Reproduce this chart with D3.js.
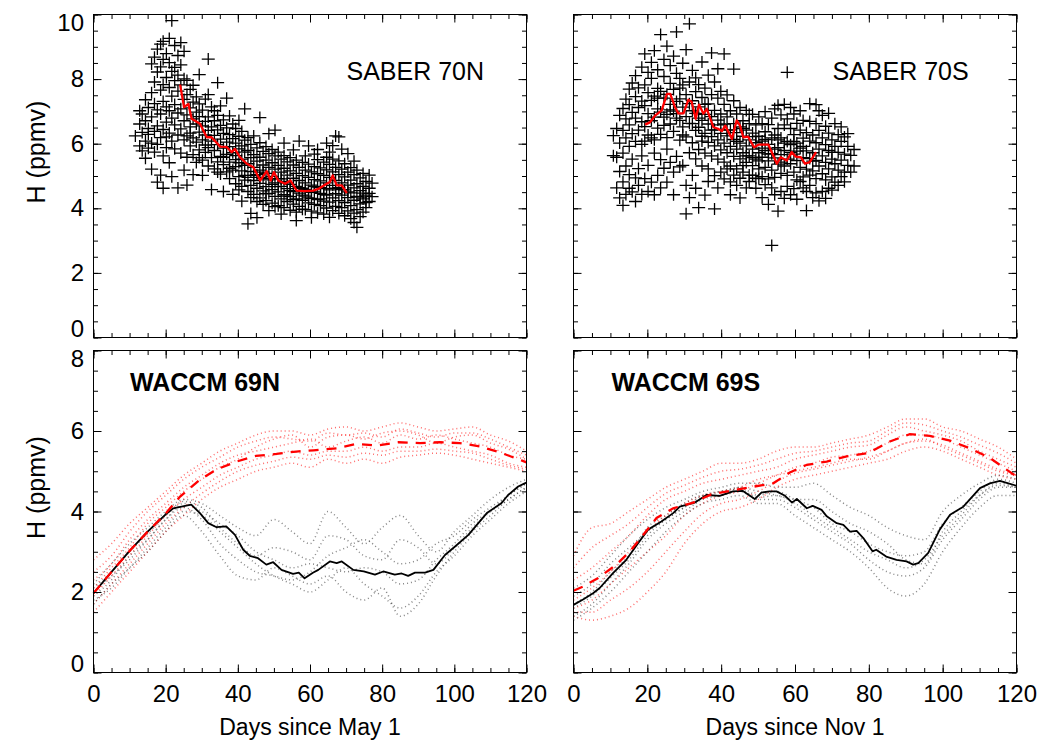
<!DOCTYPE html>
<html><head><meta charset="utf-8">
<script src="https://cdn.jsdelivr.net/npm/d3@7"></script>
<style>body{margin:0;background:#fff}svg{display:block}</style>
</head><body><svg id="c" width="1049" height="740"></svg>
<script>
// ---------------- DATA ----------------
const xTicks = [0, 20, 40, 60, 80, 100, 120];
const yTicksTop = [0, 2, 4, 6, 8, 10];
const yTicksBottom = [0, 2, 4, 6, 8];
const xTitles = ["Days since May 1", "Days since Nov 1"];
const panelLabels = ["SABER 70N", "SABER 70S", "WACCM 69N", "WACCM 69S"];

// SABER 70N scatter: [day, [values...]]
const saberN = [
[11.6,[6.24]],[12.8,[5.93,6.61,7.02]],[13.5,[6.35,5.78,6.92]],[14.4,[6.08,6.71,7.36,5.55]],
[15.2,[6.47,5.86,7.12,6.29]],[16.1,[6.02,6.83,7.58,8.47,5.21]],[16.9,[5.74,6.38,7.24,7.91,8.68]],
[17.7,[6.55,7.05,8.22,8.93,4.81,5.98]],[18.6,[6.19,6.92,7.66,8.38,9.08,5.03]],
[19.3,[5.62,6.44,7.31,7.83,8.61,9.17,4.62]],[20.2,[5.88,6.67,7.14,8.05,8.79,6.21]],
[21.0,[6.33,7.02,7.74,8.51,9.26,5.41]],[21.7,[6.08,6.79,7.47,8.24,9.81,4.98]],
[22.5,[5.84,6.58,7.21,7.95,8.36,9.04]],[23.4,[6.27,6.95,7.63,8.12,8.73,4.63]],
[24.2,[5.71,6.46,7.08,7.82,8.44,9.13]],[25.1,[6.12,6.71,7.37,8.01,8.86,5.18]],
[25.9,[5.58,6.24,6.89,7.52,7.96,4.72]],[26.8,[5.93,6.52,7.11,7.68,6.33]],
[27.6,[5.66,6.18,6.77,7.29,7.81,5.04]],[28.5,[5.42,6.05,6.61,6.98,7.45]],
[29.3,[5.81,6.36,6.84,7.23,8.14,5.57]],[30.2,[5.49,6.12,6.55,7.04,5.02]],
[31.0,[5.73,6.27,6.69,7.38,5.96]],[31.8,[5.31,5.88,6.41,6.83,7.52,8.62]],
[32.7,[5.57,6.08,6.52,7.14,4.58]],[33.5,[5.22,5.79,6.26,6.71,7.02]],
[34.4,[5.44,5.97,6.43,6.88,7.89,5.12]],[35.2,[5.06,5.61,6.14,6.57,7.17]],
[36.0,[5.35,5.86,6.32,6.74,4.52,5.58]],[36.9,[5.13,5.67,6.05,6.49,7.41]],
[37.7,[4.92,5.43,5.91,6.28,6.86,5.24]],[38.6,[5.18,5.72,6.16,6.61,4.43]],
[39.4,[4.76,5.29,5.63,6.02,6.47,5.51]],[40.3,[4.98,5.41,5.84,6.23,6.72,4.57]],
[41.1,[4.68,5.16,5.52,5.93,6.38,4.22]],[41.9,[4.87,5.33,5.74,6.11,7.08,5.02]],
[42.8,[4.52,4.96,5.38,5.79,6.19,3.52]],[43.6,[4.71,5.14,5.57,5.98,3.84,4.33]],
[44.4,[4.43,4.86,5.27,5.66,6.24,5.02]],[45.3,[4.62,5.04,5.46,5.87,3.71,4.21]],
[46.1,[4.32,4.77,5.18,5.58,6.03,6.81,4.96]],[47.0,[4.54,4.93,5.34,5.76,4.12,5.12]],
[47.8,[4.24,4.67,5.08,5.49,5.91,4.45]],[48.6,[4.46,4.88,5.27,5.69,6.31,3.93]],
[49.5,[4.16,4.58,4.99,5.41,5.82,4.74]],[50.3,[4.37,4.79,5.21,5.62,6.42,4.05]],
[51.2,[4.08,4.51,4.92,5.33,5.74,4.67]],[52.0,[4.29,4.68,5.12,5.52,3.82,4.91]],
[52.8,[4.02,4.42,4.83,5.24,5.63,6.02]],[53.7,[4.21,4.61,5.03,5.44,4.38,4.79]],
[54.5,[3.94,4.36,4.74,5.16,5.57,4.55]],[55.4,[4.13,4.52,4.93,5.34,5.81,4.27]],
[56.2,[3.88,4.29,4.68,5.08,5.49,3.62]],[57.0,[4.06,4.47,4.86,5.27,6.08,4.64]],
[57.9,[4.25,4.62,5.01,5.42,3.97,4.41]],[58.7,[3.96,4.38,4.79,5.18,5.62,4.58]],
[59.6,[4.17,4.55,4.96,5.37,5.93,4.32]],[60.4,[3.91,4.31,4.72,5.13,3.71,4.49]],
[61.2,[4.12,4.51,4.89,5.29,5.68,4.68]],[62.1,[3.86,4.27,4.66,5.07,5.51,5.82]],
[62.9,[4.08,4.46,4.85,5.25,4.29,4.64]],[63.8,[3.82,4.22,4.61,5.02,5.43,4.43]],
[64.6,[4.01,4.41,4.79,5.19,5.58,6.02]],[65.4,[4.19,4.57,4.96,5.36,5.74,3.72]],
[66.3,[3.93,4.32,4.71,5.13,5.52,5.94]],[67.1,[4.06,4.45,4.86,5.27,4.62,6.24]],
[68.0,[3.84,4.24,4.64,5.04,5.47,6.21]],[68.8,[4.02,4.41,4.79,5.21,5.83,4.58]],
[69.6,[3.77,4.18,4.57,4.97,5.38]],[70.5,[3.92,4.33,4.72,5.12,5.69,4.51]],
[71.3,[3.68,4.08,4.48,4.87,5.26]],[72.2,[3.85,4.25,4.63,5.04,5.46,3.56]],
[73.0,[3.41,3.96,4.37,4.76,5.18]],[73.9,[3.74,4.14,4.55,4.94,4.35]],
[74.7,[3.88,4.29,4.68,5.08,4.47]],[75.5,[4.02,4.41,4.83,4.18]],
[76.4,[4.21,4.62,5.03,4.46]],[77.2,[4.36,4.78]]
];
// SABER 70S scatter
const saberS = [
[10.8,[6.25,5.63]],[11.7,[5.58,6.47,4.63]],[12.5,[6.02,6.88,4.32,5.14]],
[13.4,[5.71,6.41,7.09,4.09,4.82]],[14.2,[6.18,6.77,7.38,4.43,5.31]],
[15.1,[5.92,6.58,7.21,7.69,4.62,5.04]],[15.9,[6.31,6.97,7.88,4.51,5.52]],
[16.8,[6.07,6.79,7.46,8.11,4.21,4.94]],[17.6,[6.42,7.12,7.73,5.23,4.71]],
[18.5,[5.98,6.68,7.32,8.37,4.43,5.62]],[19.3,[6.53,7.18,7.82,8.78,4.92,6.08]],
[20.2,[6.27,6.93,7.58,8.21,5.33,4.52]],[21.1,[6.71,7.34,8.02,8.52,4.81,6.18]],
[21.9,[6.12,6.82,7.47,8.88,5.71,4.42]],[22.8,[6.48,7.08,7.71,8.29,5.02,7.41]],
[23.6,[6.29,6.98,7.62,9.38,5.51,4.63]],[24.5,[6.82,7.41,8.08,8.61,5.24,6.57]],
[25.3,[6.19,6.91,7.53,9.02,4.81,5.83]],[26.2,[6.61,7.22,7.87,8.42,5.42,7.05]],
[27.1,[6.38,7.01,7.68,8.71,4.42,5.12]],[27.9,[6.79,7.31,8.18,9.46,5.61,6.93]],
[28.8,[6.11,6.72,7.39,8.02,5.28,7.72]],[29.6,[6.52,7.13,7.82,8.49,5.33,6.27]],
[30.5,[6.21,6.84,7.52,8.91,3.83,4.71]],[31.4,[6.63,7.24,7.91,9.71,5.72,4.33]],
[32.2,[6.03,6.62,7.33,8.27,5.02,7.02]],[33.1,[6.41,6.94,7.61,8.04,4.62,5.53]],
[33.9,[5.82,6.51,7.14,7.83,4.02,6.79]],[34.8,[6.23,6.72,7.43,8.53,5.31,6.08]],
[35.6,[5.71,6.32,6.91,7.72,4.41,7.22]],[36.5,[6.04,6.61,7.23,8.12,5.22,4.83]],
[37.4,[5.62,6.22,6.84,7.52,8.81,6.42]],[38.2,[5.93,6.43,7.03,7.91,5.01,3.98]],
[39.1,[5.52,6.12,6.73,7.41,8.32,4.63]],[39.9,[5.81,6.32,6.92,7.62,5.12,6.58]],
[40.8,[5.43,6.02,6.61,7.22,4.91,8.78]],[41.6,[5.72,6.24,6.83,7.51,5.22,6.42]],
[42.5,[5.31,5.92,6.43,7.02,4.82,4.42]],[43.4,[5.61,6.13,6.62,7.33,5.03,8.31]],
[44.2,[5.22,5.83,6.34,6.92,4.71,6.07]],[45.1,[5.53,6.02,6.52,7.12,4.93,4.32]],
[45.9,[5.12,5.72,6.23,6.71,5.32,6.47]],[46.8,[5.42,5.93,6.42,7.03,4.63,5.62]],
[47.6,[5.03,5.62,6.12,6.62,4.83,6.91]],[48.5,[5.32,5.83,6.33,6.91,5.02,5.57]],
[49.4,[4.93,5.52,6.03,6.58,4.62,6.22]],[50.2,[5.22,5.72,6.23,6.83,4.92,5.47]],
[51.1,[4.98,5.58,6.08,6.62,4.33,5.86]],[51.9,[5.27,5.79,6.37,6.99,4.73,6.13]],
[52.8,[4.91,5.47,5.98,6.59,4.12,5.68]],[53.7,[5.18,5.69,6.18,6.79,4.63,2.85]],
[54.5,[4.96,5.56,6.27,7.08,4.42,5.83]],[55.4,[5.37,5.88,6.47,7.19,3.91,6.12]],
[56.2,[5.08,5.66,6.18,6.89,4.52,5.43]],[57.1,[5.31,5.79,6.58,7.22,4.31,6.02]],
[57.9,[5.02,5.52,6.07,6.77,4.68,8.21]],[58.8,[5.38,5.97,6.47,7.12,4.42,5.73]],
[59.7,[5.12,5.68,6.28,6.92,4.61,6.07]],[60.5,[4.88,5.48,6.02,6.63,4.28,5.77]],
[61.4,[5.27,5.86,6.42,7.02,4.83]],[62.2,[4.97,5.57,6.17,6.72,4.63,5.92]],
[63.1,[5.21,5.78,6.34,3.93,4.52]],[64.0,[5.03,5.54,6.08,6.69,4.71,7.24]],
[64.8,[5.16,5.72,6.27,4.33,5.46]],[65.7,[4.92,5.48,6.03,6.62,4.48,7.21]],
[66.5,[5.31,5.83,6.41,7.02,4.23]],[67.4,[5.07,5.62,6.18,6.88,4.52]],
[68.3,[4.88,5.42,5.97,6.54,4.31]],[69.1,[5.22,5.79,6.33,6.94,4.62]],
[70.0,[4.97,5.52,6.12,4.56,5.73]],[70.8,[4.81,5.38,5.92,6.62]],
[71.7,[5.18,5.73,6.28,4.71]],[72.5,[4.98,5.49,6.07,6.52]],
[73.4,[5.12,5.68,6.21,4.82]],[74.3,[5.33,5.92,6.31]],[75.1,[5.12,5.64]],[76.0,[5.31,5.82]]
];
// SABER running means
const saberNMean = [[24,7.83],[25.1,7.13],[26.3,7.23],[27.2,6.77],[29.5,6.62],[31.4,6.20],[32.7,6.2],[35.1,5.91],[36.9,5.9],[38.3,5.74],[39.2,5.84],[40.6,5.58],[42.5,5.38],[44.3,5.27],[46.2,4.86],[48,5.15],[49.1,4.86],[50,5.12],[51.2,4.86],[53.1,4.76],[54.6,4.86],[56.3,4.55],[58.6,4.53],[60.9,4.55],[62.3,4.60],[64.6,4.76],[65.5,4.81],[66.3,5.02],[67.4,4.71],[68.8,4.71],[70.2,4.47]];
const saberSMean = [[19.4,6.59],[20.7,6.66],[22.1,6.87],[23.9,7.03],[25.3,7.54],[26.2,7.54],[27.5,7.13],[28.4,6.94],[29.8,6.94],[31.1,7.36],[32,7.3],[33.1,6.77],[34,7.21],[35.2,6.93],[36.1,7.08],[37.9,6.51],[39,6.47],[40.2,6.39],[41.1,6.56],[42.9,6.15],[44.2,6.72],[45.1,6.56],[46,6.20],[47.3,6.22],[48.9,5.89],[50.1,5.97],[52.8,5.97],[55.1,5.38],[56.1,5.58],[57.8,5.48],[59.1,5.74],[60.2,5.6],[61.6,5.58],[62.7,5.38],[64,5.43],[65.7,5.74]];

// WACCM means
const waccmNBlack = [[0,1.97],[5,2.5],[10,3.02],[15,3.5],[20,3.93],[22.1,4.08],[23.7,4.11],[27.1,4.17],[29.5,3.96],[31.8,3.71],[34.1,3.61],[36.8,3.63],[39.2,3.42],[41.5,3.05],[43.3,2.90],[45.6,2.84],[47.9,2.68],[49.8,2.74],[52.1,2.55],[55.3,2.45],[56.9,2.48],[58.5,2.34],[60.8,2.48],[62.3,2.55],[65.5,2.76],[67.4,2.72],[68.8,2.76],[72,2.55],[74.9,2.51],[78,2.43],[80.3,2.51],[83.5,2.43],[85.4,2.46],[87.2,2.40],[89.1,2.48],[91.9,2.48],[94.2,2.55],[97.4,2.92],[100.2,3.13],[103.9,3.42],[109,3.96],[113.1,4.21],[114.9,4.41],[117.7,4.62],[119.5,4.70],[120,4.72]];
const waccmNRed = [[0,1.97],[5,2.5],[10,3.02],[15,3.5],[20,3.95],[24,4.37],[29.5,4.79],[34,5.04],[39.6,5.24],[45,5.38],[50.7,5.43],[56.2,5.49],[61,5.52],[67.4,5.57],[72.9,5.68],[78.5,5.64],[84.5,5.72],[90.5,5.70],[96,5.72],[101.5,5.70],[107,5.62],[112.6,5.47],[118.6,5.27],[120,5.22]];
const waccmSBlack = [[0,1.68],[2.7,1.82],[5.3,1.97],[7.1,2.10],[10.7,2.47],[14.3,2.80],[17.5,3.21],[20.2,3.55],[23.8,3.75],[27,3.96],[28.8,4.12],[32.8,4.22],[36,4.41],[39.6,4.39],[43.2,4.50],[45.9,4.51],[49.1,4.31],[50.9,4.47],[53.1,4.50],[55,4.50],[57.3,4.39],[59.2,4.22],[60.5,4.31],[63.2,4.08],[64.8,4.14],[67.2,4.04],[68.6,3.88],[71.3,3.71],[73.1,3.67],[74.9,3.50],[76.7,3.52],[78.5,3.34],[81,3.01],[82,3.05],[84.7,2.88],[87.5,2.80],[90.2,2.76],[92,2.68],[93.4,2.72],[96.1,2.97],[99.2,3.55],[102,3.92],[105.6,4.12],[110.1,4.58],[112.8,4.70],[115.5,4.76],[117.8,4.70],[120,4.64]];
const waccmSRed = [[0,2.03],[2.7,2.14],[6.7,2.35],[11.6,2.68],[15.3,3.01],[18.9,3.42],[22.5,3.84],[27,4.08],[32.4,4.22],[37.4,4.43],[42.3,4.51],[47.7,4.60],[54.1,4.70],[58.6,4.97],[63.2,5.16],[68.6,5.24],[74,5.37],[79.8,5.45],[85.7,5.74],[91.1,5.92],[96.5,5.88],[102,5.76],[107.4,5.57],[112.8,5.33],[117.3,5.04],[120,4.87]];

// WACCM ensemble members (values every 5 days, day 0..120)
const memberDays = [0,5,10,15,20,25,30,35,40,45,50,55,60,65,70,75,80,85,90,95,100,105,110,115,120];
const membersNBlack = [
[2.2,2.7,3.2,3.6,4.0,4.3,4.2,3.9,3.6,3.4,3.8,3.5,3.2,4.0,3.6,3.2,3.6,3.9,3.4,3.0,3.5,3.9,4.3,4.6,4.8],
[1.9,2.3,2.9,3.3,3.8,4.1,3.8,3.2,2.8,2.5,2.4,2.3,2.5,2.9,3.1,3.3,3.0,2.7,2.8,3.2,3.4,3.8,4.1,4.4,4.7],
[1.7,2.2,2.6,3.1,3.6,4.0,3.9,3.5,3.1,2.7,2.4,2.2,2.0,2.3,2.6,2.2,1.9,1.6,1.9,2.5,2.9,3.4,3.8,4.2,4.5],
[1.8,2.1,2.6,3.0,3.5,3.9,3.5,2.9,2.4,2.3,2.6,2.4,2.2,2.4,2.0,1.8,2.1,1.4,1.7,2.4,3.0,3.5,3.9,4.3,4.6],
[2.0,2.4,2.8,3.3,3.8,4.2,4.0,3.7,3.4,3.0,2.8,2.6,2.7,2.6,2.5,2.6,2.5,2.2,2.3,2.8,3.2,3.7,4.0,4.3,4.6],
[2.1,2.5,3.0,3.45,3.9,4.25,4.1,3.6,3.2,2.9,3.1,3.0,2.8,3.4,3.3,2.9,2.8,3.3,3.1,2.7,3.1,3.6,4.0,4.4,4.7]
];
const membersNRed = [
[2.8,3.2,3.7,4.1,4.5,4.9,5.2,5.5,5.7,5.9,6.0,6.0,5.9,6.05,6.1,6.0,6.1,6.2,6.1,6.0,6.05,6.1,5.9,5.75,5.5],
[2.3,2.7,3.3,3.8,4.2,4.6,4.9,5.2,5.4,5.5,5.6,5.7,5.8,5.6,5.75,5.85,5.7,5.9,5.8,5.9,5.8,5.7,5.6,5.4,5.3],
[1.9,2.4,2.9,3.4,3.9,4.3,4.6,4.9,5.1,5.3,5.4,5.5,5.4,5.5,5.5,5.6,5.5,5.6,5.6,5.7,5.6,5.5,5.4,5.2,5.1],
[1.5,2.0,2.5,3.0,3.5,3.9,4.3,4.6,4.8,5.0,5.1,5.2,5.1,5.3,5.2,5.3,5.2,5.35,5.4,5.45,5.4,5.3,5.2,5.1,5.0],
[2.1,2.6,3.1,3.7,4.1,4.5,4.8,5.1,5.3,5.6,5.8,5.9,5.6,5.85,5.9,5.8,5.95,6.0,5.9,5.7,5.85,5.9,5.7,5.55,5.3],
[2.5,2.9,3.5,4.0,4.4,4.8,5.1,5.35,5.6,5.75,5.85,5.8,5.75,5.95,5.9,5.95,5.85,6.05,5.95,5.85,5.95,5.95,5.8,5.6,5.4],
[1.7,2.2,2.7,3.2,3.7,4.1,4.45,4.75,5.0,5.15,5.25,5.35,5.3,5.4,5.35,5.45,5.4,5.5,5.5,5.55,5.5,5.45,5.3,5.15,5.05]
];
const membersSBlack = [
[2.1,2.4,2.9,3.4,3.8,4.1,4.3,4.5,4.6,4.7,4.7,4.6,4.6,4.7,4.4,4.1,3.9,3.6,3.4,3.3,4.0,4.4,4.7,4.9,4.8],
[1.7,2.0,2.5,2.9,3.6,3.9,4.2,4.4,4.4,4.6,4.4,4.5,4.3,4.1,3.7,3.5,3.2,3.0,2.9,3.0,3.7,4.1,4.5,4.8,4.7],
[1.4,1.7,2.2,2.7,3.3,3.7,4.0,4.3,4.4,4.5,4.3,4.3,4.1,3.8,3.5,3.2,2.8,2.5,2.4,2.6,3.3,3.8,4.3,4.6,4.6],
[1.3,1.6,2.0,2.5,3.0,3.5,3.9,4.2,4.3,4.4,4.2,4.2,3.9,3.6,3.3,3.0,2.6,2.1,1.9,2.2,3.0,3.6,4.1,4.4,4.4],
[1.9,2.2,2.7,3.1,3.5,3.8,4.1,4.35,4.5,4.6,4.5,4.4,4.3,4.3,4.0,3.7,3.5,3.2,2.8,2.7,3.5,4.0,4.4,4.65,4.6],
[1.6,1.9,2.35,2.8,3.4,3.8,4.1,4.4,4.5,4.55,4.35,4.4,4.2,3.9,3.6,3.3,3.0,2.8,2.6,2.8,3.4,3.9,4.4,4.7,4.6]
];
const membersSRed = [
[2.9,3.6,3.7,4.0,4.3,4.6,4.8,5.0,5.2,5.2,5.3,5.5,5.6,5.6,5.7,5.8,5.9,6.1,6.3,6.3,6.1,6.0,5.8,5.6,5.3],
[2.3,2.6,3.0,3.4,3.9,4.3,4.5,4.7,4.8,4.9,5.0,5.1,5.3,5.4,5.5,5.6,5.65,5.9,6.1,6.0,5.9,5.75,5.5,5.3,5.1],
[1.8,2.1,2.5,3.0,3.5,3.9,4.2,4.4,4.5,4.6,4.8,4.9,5.0,5.1,5.2,5.3,5.3,5.5,5.7,5.8,5.6,5.4,5.2,5.0,4.9],
[1.4,1.3,1.4,1.6,2.0,2.5,3.2,3.7,4.0,4.1,4.3,4.6,4.8,4.9,5.0,5.1,5.2,5.3,5.5,5.6,5.5,5.3,5.1,4.9,4.8],
[1.6,1.8,2.2,2.6,3.0,3.4,3.9,4.2,4.4,4.5,4.7,4.9,5.1,5.2,5.35,5.4,5.5,5.7,5.9,5.9,5.8,5.6,5.4,5.2,5.0],
[2.6,3.1,3.4,3.7,4.1,4.45,4.65,4.85,5.0,5.05,5.15,5.3,5.45,5.5,5.6,5.7,5.75,6.0,6.2,6.15,6.0,5.85,5.65,5.45,5.2],
[1.5,1.5,1.8,2.1,2.5,3.0,3.5,3.95,4.2,4.3,4.5,4.75,4.95,5.05,5.15,5.25,5.35,5.5,5.7,5.75,5.65,5.45,5.25,5.05,4.9]
];

// ---------------- LAYOUT ----------------
const FONT = '"Liberation Sans", Arial, Helvetica, sans-serif';
const svg = d3.select("#c");
const panels = [
  {x0:93.5, x1:526.5, y0:14.5, y1:337.5, ymax:10, yt:yTicksTop, top:true, left:true, label:panelLabels[0], lx:346.5, ly:79.5, bold:false},
  {x0:573.5, x1:1016.5, y0:14.5, y1:337.5, ymax:10, yt:yTicksTop, top:true, left:false, label:panelLabels[1], lx:832.5, ly:79.5, bold:false},
  {x0:93.5, x1:526.5, y0:350.5, y1:672.5, ymax:8, yt:yTicksBottom, top:false, left:true, label:panelLabels[2], lx:130, ly:391, bold:true, xtitle:xTitles[0]},
  {x0:573.5, x1:1016.5, y0:350.5, y1:672.5, ymax:8, yt:yTicksBottom, top:false, left:false, label:panelLabels[3], lx:611.5, ly:391, bold:true, xtitle:xTitles[1]}
];
panels.forEach(p => {
  p.x = d3.scaleLinear().domain([0,120]).range([p.x0, p.x1]);
  p.y = d3.scaleLinear().domain([0,p.ymax]).range([p.y1, p.y0]);
});

function styleAxis(g){
  g.select(".domain").remove();
  g.selectAll(".tick line").attr("stroke","#000").attr("stroke-width",1);
  g.attr("font-family", FONT).attr("font-size", 24);
  g.selectAll("text").attr("fill","#000");
}

function drawAxes(p){
  const g = svg.append("g");
  const minorX = d3.range(0,121,5), minorY = d3.range(0,p.ymax+0.01,0.5);
  const MAJ = 8, MIN = 4.5;
  g.append("g").attr("transform",`translate(0,${p.y1})`)
    .call(d3.axisBottom(p.x).tickValues(minorX).tickSizeInner(-MIN).tickSizeOuter(0).tickFormat(""))
    .call(styleAxis);
  g.append("g").attr("transform",`translate(0,${p.y1})`)
    .call(d3.axisBottom(p.x).tickValues(xTicks).tickSizeInner(-MAJ).tickSizeOuter(0)
      .tickPadding(12.5).tickFormat(p.top ? "" : d3.format("d")))
    .call(styleAxis);
  g.append("g").attr("transform",`translate(0,${p.y0})`)
    .call(d3.axisTop(p.x).tickValues(minorX).tickSizeInner(-MIN).tickSizeOuter(0).tickFormat(""))
    .call(styleAxis);
  g.append("g").attr("transform",`translate(0,${p.y0})`)
    .call(d3.axisTop(p.x).tickValues(xTicks).tickSizeInner(-MAJ).tickSizeOuter(0).tickFormat(""))
    .call(styleAxis);
  g.append("g").attr("transform",`translate(${p.x0},0)`)
    .call(d3.axisLeft(p.y).tickValues(minorY).tickSizeInner(-MIN).tickSizeOuter(0).tickFormat(""))
    .call(styleAxis);
  const yl = g.append("g").attr("transform",`translate(${p.x0},0)`)
    .call(d3.axisLeft(p.y).tickValues(p.yt).tickSizeInner(-MAJ).tickSizeOuter(0)
      .tickPadding(9.5).tickFormat(p.left ? d3.format("d") : ""))
    .call(styleAxis);
  const ymaxV = p.ymax;
  yl.selectAll(".tick text").attr("y", d => d === 0 ? -9 : (d === ymaxV ? 8 : 0));
  g.append("g").attr("transform",`translate(${p.x1},0)`)
    .call(d3.axisRight(p.y).tickValues(minorY).tickSizeInner(-MIN).tickSizeOuter(0).tickFormat(""))
    .call(styleAxis);
  g.append("g").attr("transform",`translate(${p.x1},0)`)
    .call(d3.axisRight(p.y).tickValues(p.yt).tickSizeInner(-MAJ).tickSizeOuter(0).tickFormat(""))
    .call(styleAxis);
  g.append("rect").attr("x",p.x0).attr("y",p.y0).attr("width",p.x1-p.x0).attr("height",p.y1-p.y0)
    .attr("fill","none").attr("stroke","#000").attr("stroke-width",1);
  g.append("text").attr("x",p.lx).attr("y",p.ly).text(p.label)
    .attr("font-family",FONT).attr("font-size",25).attr("font-weight",p.bold?"bold":"normal").attr("fill","#000");
  if (p.left) {
    g.append("text").attr("transform",`translate(45,${(p.y0+p.y1)/2-24}) rotate(-90)`)
      .attr("text-anchor","middle").attr("font-family",FONT).attr("font-size",25).attr("fill","#000")
      .text("H (ppmv)");
  }
  if (p.xtitle) {
    g.append("text").attr("x",(p.x0+p.x1)/2).attr("y",735).attr("text-anchor","middle")
      .attr("font-family",FONT).attr("font-size",23).attr("fill","#000").text(p.xtitle);
  }
}

function drawScatter(p, data, mean){
  const pts = [];
  data.forEach(([d, vals]) => vals.forEach(v => pts.push([d, v])));
  const g = svg.append("g");
  g.selectAll("path").data(pts).join("path")
    .attr("d", d => { const x = p.x(d[0]), y = p.y(d[1]); return `M${x-6.5},${y}H${x+6.5}M${x},${y-6}V${y+6}`; })
    .attr("stroke","#000").attr("stroke-width",1.3).attr("fill","none");
  const line = d3.line().x(d => p.x(d[0])).y(d => p.y(d[1]));
  svg.append("path").datum(mean).attr("d", line).attr("fill","none")
    .attr("stroke","#ff0000").attr("stroke-width",2.3).attr("stroke-linejoin","round");
}

function drawModel(p, blackMembers, redMembers, blackMean, redMean){
  const mline = d3.line().x((d,i) => p.x(memberDays[i])).y(d => p.y(d)).curve(d3.curveMonotoneX);
  const g = svg.append("g");
  g.selectAll(".r").data(redMembers).join("path").attr("class","r")
    .attr("d", mline).attr("fill","none").attr("stroke","#ff2020").attr("stroke-opacity",0.65)
    .attr("stroke-width",1.5).attr("stroke-dasharray","1,3");
  g.selectAll(".b").data(blackMembers).join("path").attr("class","b")
    .attr("d", mline).attr("fill","none").attr("stroke","#222").attr("stroke-opacity",0.55)
    .attr("stroke-width",1.5).attr("stroke-dasharray","1,3");
  const line = d3.line().x(d => p.x(d[0])).y(d => p.y(d[1]));
  svg.append("path").datum(blackMean).attr("d", line).attr("fill","none")
    .attr("stroke","#000").attr("stroke-width",1.8).attr("stroke-linejoin","round");
  svg.append("path").datum(redMean).attr("d", line).attr("fill","none")
    .attr("stroke","#ff0000").attr("stroke-width",2.3).attr("stroke-dasharray","10,8");
}

drawScatter(panels[0], saberN, saberNMean);
drawScatter(panels[1], saberS, saberSMean);
drawModel(panels[2], membersNBlack, membersNRed, waccmNBlack, waccmNRed);
drawModel(panels[3], membersSBlack, membersSRed, waccmSBlack, waccmSRed);
panels.forEach(drawAxes);
</script></body></html>
